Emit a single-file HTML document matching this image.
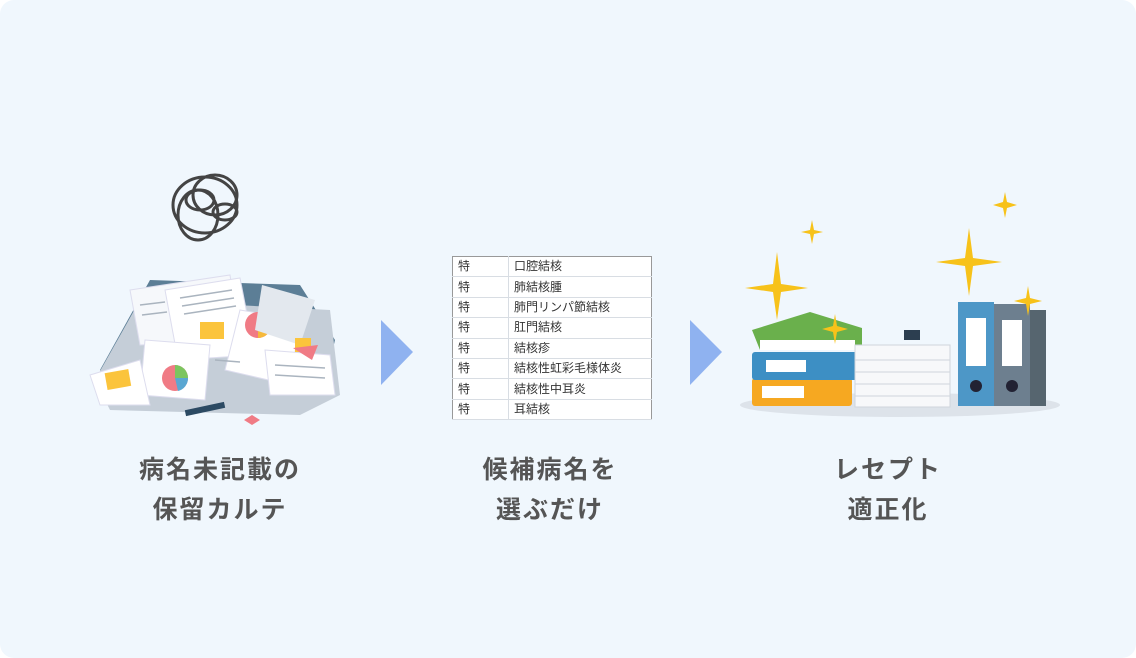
<!DOCTYPE html>
<html><head><meta charset="utf-8"><style>
html,body{margin:0;padding:0;background:#fff;}
.wrap{position:relative;width:1136px;height:658px;background:#f0f7fd;border-radius:14px;overflow:hidden;font-family:"Liberation Sans","Noto Sans CJK JP",sans-serif;}
.lbl{position:absolute;width:300px;text-align:center;font-weight:bold;font-size:25px;line-height:40px;color:#555;letter-spacing:2px;}
table{position:absolute;left:452px;top:256px;width:200px;border-collapse:collapse;background:#fff;border:1px solid #999;font-size:12px;color:#333;}
td{height:19.4px;padding:0 0 0 5px;border-bottom:1px solid #d8dde3;line-height:19px;}
td:first-child{width:50px;border-right:1px solid #d8dde3;}
</style></head><body><div class="wrap">
<svg style="position:absolute;left:0;top:0" width="1136" height="658">
<polygon points="381,320 413,352 381,385" fill="#8fb2f0"/>
<polygon points="690,320 722,352 690,385" fill="#8fb2f0"/>
<g fill="none" stroke="#444" stroke-width="3">
<ellipse cx="205" cy="205" rx="32" ry="28"/><ellipse cx="215" cy="195" rx="22" ry="20"/><ellipse cx="198" cy="215" rx="20" ry="25"/><ellipse cx="225" cy="212" rx="12" ry="8"/><ellipse cx="200" cy="200" rx="14" ry="10"/>
</g>
<g>
<polygon points="100,370 150,280 300,285 335,340 320,405 120,405" fill="#5c7e96"/>
<polygon points="95,380 140,300 330,310 340,395 300,415 110,410" fill="#c5ced8"/>
<polygon points="130,290 230,275 240,340 140,345" fill="#f6f8fb" stroke="#dde"/>
<polygon points="165,290 240,278 255,355 178,360" fill="#fff" stroke="#dde"/>
<g stroke="#aab4bf" stroke-width="1.5"><line x1="180" y1="298" x2="232" y2="290"/><line x1="182" y1="306" x2="234" y2="298"/><line x1="184" y1="314" x2="236" y2="306"/><line x1="140" y1="305" x2="165" y2="302"/><line x1="142" y1="315" x2="167" y2="312"/></g>
<rect x="200" y="322" width="24" height="17" fill="#fbc43c"/>
<polygon points="240,310 300,320 290,385 225,370" fill="#fff" stroke="#dde"/>
<circle cx="258" cy="325" r="13" fill="#f07b85"/><path d="M258 325 L271 325 A13 13 0 0 1 258 338Z" fill="#f6b93b"/>
<polygon points="262,285 315,300 300,345 255,330" fill="#e3e8ee"/>
<polygon points="145,340 210,345 205,400 140,395" fill="#fff" stroke="#dde"/>
<circle cx="175" cy="378" r="13" fill="#f07b85"/><path d="M175 378 L175 365 A13 13 0 0 1 188 378Z" fill="#7cc55f"/><path d="M175 378 L188 378 A13 13 0 0 1 178 391Z" fill="#5aa7d2"/>
<polygon points="90,375 140,360 150,405 100,405" fill="#fff" stroke="#dde"/>
<rect x="106" y="371" width="24" height="17" fill="#fbc43c" transform="rotate(-10 118 380)"/>
<polygon points="265,350 330,355 335,395 270,395" fill="#fff" stroke="#dde"/>
<g stroke="#aab4bf" stroke-width="1.5"><line x1="275" y1="365" x2="325" y2="368"/><line x1="275" y1="375" x2="325" y2="378"/><line x1="215" y1="360" x2="240" y2="362"/></g>
<rect x="295" y="338" width="16" height="14" fill="#fbc43c"/>
<polygon points="293,348 318,345 312,360" fill="#f07b85"/>
<rect x="185" y="406" width="40" height="6" fill="#2c4a63" transform="rotate(-12 205 409)"/>
<polygon points="244,420 252,415 260,420 252,425" fill="#f07b85"/>
</g>
<ellipse cx="900" cy="405" rx="160" ry="12" fill="#dde3ea"/>
<rect x="752" y="378" width="100" height="28" rx="3" fill="#f6a821"/><rect x="762" y="386" width="42" height="12" fill="#fff"/>
<rect x="752" y="352" width="112" height="28" rx="3" fill="#3d8fc4"/><rect x="766" y="360" width="40" height="12" fill="#fff"/>
<polygon points="752,330 810,312 862,328 862,350 760,350" fill="#6ab04c"/>
<rect x="760" y="340" width="95" height="10" fill="#fff"/>
<rect x="855" y="345" width="95" height="62" fill="#f7f8fa" stroke="#cfd5dc"/>
<g stroke="#cfd5dc"><line x1="855" y1="360" x2="950" y2="360"/><line x1="855" y1="372" x2="950" y2="372"/><line x1="855" y1="384" x2="950" y2="384"/><line x1="855" y1="396" x2="950" y2="396"/></g>
<rect x="904" y="330" width="16" height="10" fill="#2c3e50"/>
<rect x="958" y="302" width="36" height="104" fill="#4d97c7"/><rect x="966" y="318" width="20" height="48" fill="#fff"/><circle cx="976" cy="386" r="6" fill="#223"/>
<rect x="994" y="304" width="36" height="102" fill="#6d7f8f"/><rect x="1030" y="310" width="16" height="96" fill="#56656f"/><rect x="1002" y="320" width="20" height="46" fill="#fff"/><circle cx="1012" cy="386" r="6" fill="#223"/>
<g fill="#f7c21a">
<polygon points="777,252 781,284 808,288 781,292 777,320 773,292 745,288 773,284"/>
<polygon points="969,228 973,258 1002,262 973,266 969,296 965,266 936,262 965,258"/>
<polygon points="812,220 814,230 823,232 814,234 812,244 810,234 801,232 810,230"/>
<polygon points="1005,192 1007,202 1017,205 1007,208 1005,218 1003,208 993,205 1003,202"/>
<polygon points="835,314 837,326 848,329 837,332 835,344 833,332 822,329 833,326"/>
<polygon points="1028,286 1030,298 1042,301 1030,304 1028,316 1026,304 1014,301 1026,298"/>
</g>
</svg>
<table>
<tr><td>特</td><td>口腔結核</td></tr>
<tr><td>特</td><td>肺結核腫</td></tr>
<tr><td>特</td><td>肺門リンパ節結核</td></tr>
<tr><td>特</td><td>肛門結核</td></tr>
<tr><td>特</td><td>結核疹</td></tr>
<tr><td>特</td><td>結核性虹彩毛様体炎</td></tr>
<tr><td>特</td><td>結核性中耳炎</td></tr>
<tr><td>特</td><td>耳結核</td></tr>
</table>
<div class="lbl" style="left:70px;top:450px">病名未記載の<br>保留カルテ</div>
<div class="lbl" style="left:400px;top:450px">候補病名を<br>選ぶだけ</div>
<div class="lbl" style="left:738px;top:450px">レセプト<br>適正化</div>
</div></body></html>
